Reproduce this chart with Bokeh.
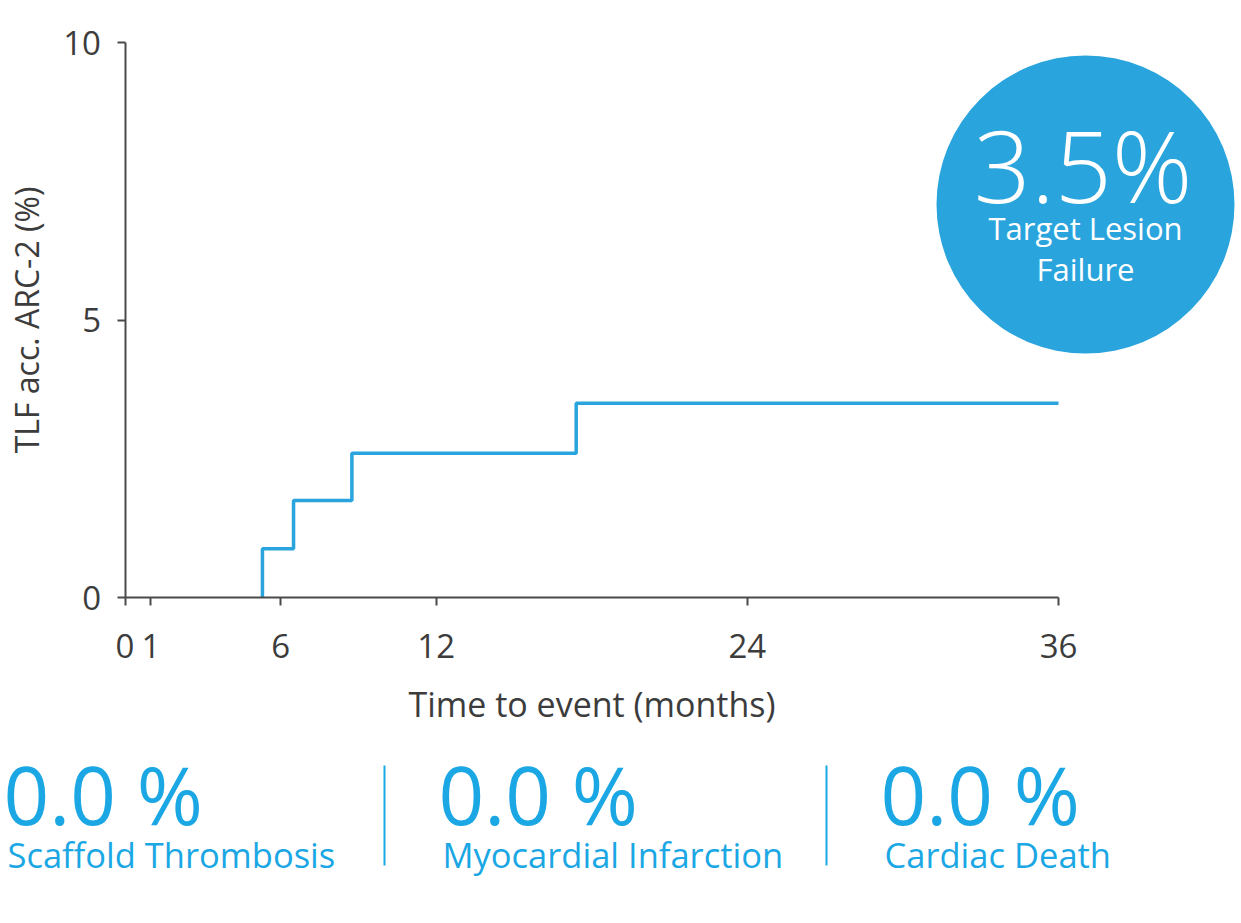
from bokeh.plotting import figure
from bokeh.models import Range1d, FixedTicker, LinearAxis
from bokeh.core.properties import value
from bokeh.embed import file_html
from bokeh.resources import INLINE

# ---- data ----
event_months = [5.3, 6.5, 8.75, 17.4]
tlf_pct = [0.88, 1.75, 2.6, 3.5]
follow_up_end = 36
y_max = 10
x_ticks = [0, 1, 6, 12, 24, 36]
y_ticks = [0, 5, 10]
stat_values = [0.0, 0.0, 0.0]
stat_names = ["Scaffold Thrombosis", "Myocardial Infarction", "Cardiac Death"]
headline_value = 3.5
headline_text = ["Target Lesion", "Failure"]

FONT = "Open Sans"
AXIS_COL = "#4a4a4a"
TEXT_COL = "#3c3c3c"
LINE_COL = "#29a4dd"
STAT_COL = "#1aa7e4"

# canvas geometry: page pixels -> data (x 0..36 at 124.5..1058, y 0..10 at 597..42)
W, H = 1240, 912
XPX = (1058 - 124.5) / 36.0
YPX = (597 - 42) / 10.0
def dx(px):
    return (px - 124.5) / XPX
def dy(py):
    return (597 - py) / YPX

p = figure(width=W, height=H,
           x_range=Range1d(dx(0), dx(W)), y_range=Range1d(dy(H), dy(0)),
           x_axis_type=None, y_axis_type=None,
           output_backend="svg", toolbar_location=None,
           min_border=0, min_border_left=0, min_border_right=0,
           min_border_top=0, min_border_bottom=0)
p.outline_line_color = None
p.grid.visible = False

# step path from data
xs = [event_months[0]]
ys = [0]
prev = 0
for t, v in zip(event_months, tlf_pct):
    xs += [t, t]
    ys += [prev, v]
    prev = v
xs.append(follow_up_end)
ys.append(prev)
p.line(xs, ys, line_color=LINE_COL, line_width=3.5)

xaxis = LinearAxis(fixed_location=0, bounds=(0, follow_up_end),
                   ticker=FixedTicker(ticks=x_ticks),
                   axis_label="Time to event (months)")
yaxis = LinearAxis(fixed_location=0, bounds=(0, y_max),
                   ticker=FixedTicker(ticks=y_ticks),
                   axis_label="TLF acc. ARC-2 (%)")
for ax in (xaxis, yaxis):
    ax.axis_line_color = AXIS_COL
    ax.axis_line_width = 2
    ax.major_tick_line_color = AXIS_COL
    ax.major_tick_line_width = 2
    ax.major_tick_in = 0
    ax.major_tick_out = 8
    ax.minor_tick_line_color = None
    ax.major_label_text_font = FONT
    ax.major_label_text_font_size = "33px"
    ax.major_label_text_color = TEXT_COL
    ax.axis_label_text_font = FONT
    ax.axis_label_text_font_size = "33px"
    ax.axis_label_text_font_style = "normal"
    ax.axis_label_text_color = TEXT_COL
xaxis.major_label_standoff = 28
xaxis.axis_label_standoff = 20
xaxis.axis_label_text_font_size = "34px"
yaxis.major_label_standoff = 16
yaxis.axis_label_standoff = 13
yaxis.axis_label_text_font_size = "32px"
p.add_layout(xaxis, "below")
p.add_layout(yaxis, "left")

# headline bubble
cx, cy = dx(1085), dy(204)
p.scatter(x=[cx], y=[cy], size=298, marker="circle",
          fill_color=LINE_COL, line_color=None)
p.text(x=[cx], y=[dy(163)], text=[f"{headline_value}%"],
       text_font=value(FONT), text_font_size="100px", text_color="white",
       text_align="center", text_baseline="middle")
p.text(x=[cx, cx], y=[dy(227), dy(268)], text=headline_text,
       text_font=value(FONT), text_font_size="31px", text_color="white",
       text_align="center", text_baseline="middle")

# bottom statistics
stat_px = [3, 438, 880]
p.text(x=[dx(s) for s in stat_px], y=[dy(793)] * 3,
       text=[f"{v:.1f} %" for v in stat_values],
       text_font=value(FONT), text_font_size="80px", text_color=STAT_COL,
       text_align="left", text_baseline="middle")
p.text(x=[dx(s + 4) for s in stat_px], y=[dy(854)] * 3, text=stat_names,
       text_font=value(FONT), text_font_size="34.5px", text_color=STAT_COL,
       text_align="left", text_baseline="middle")
sep_px = [384, 826]
p.segment(x0=[dx(s) for s in sep_px], y0=[dy(765)] * 2,
          x1=[dx(s) for s in sep_px], y1=[dy(865)] * 2,
          line_color=STAT_COL, line_width=2)

open("out.html", "w").write(file_html(p, INLINE))
